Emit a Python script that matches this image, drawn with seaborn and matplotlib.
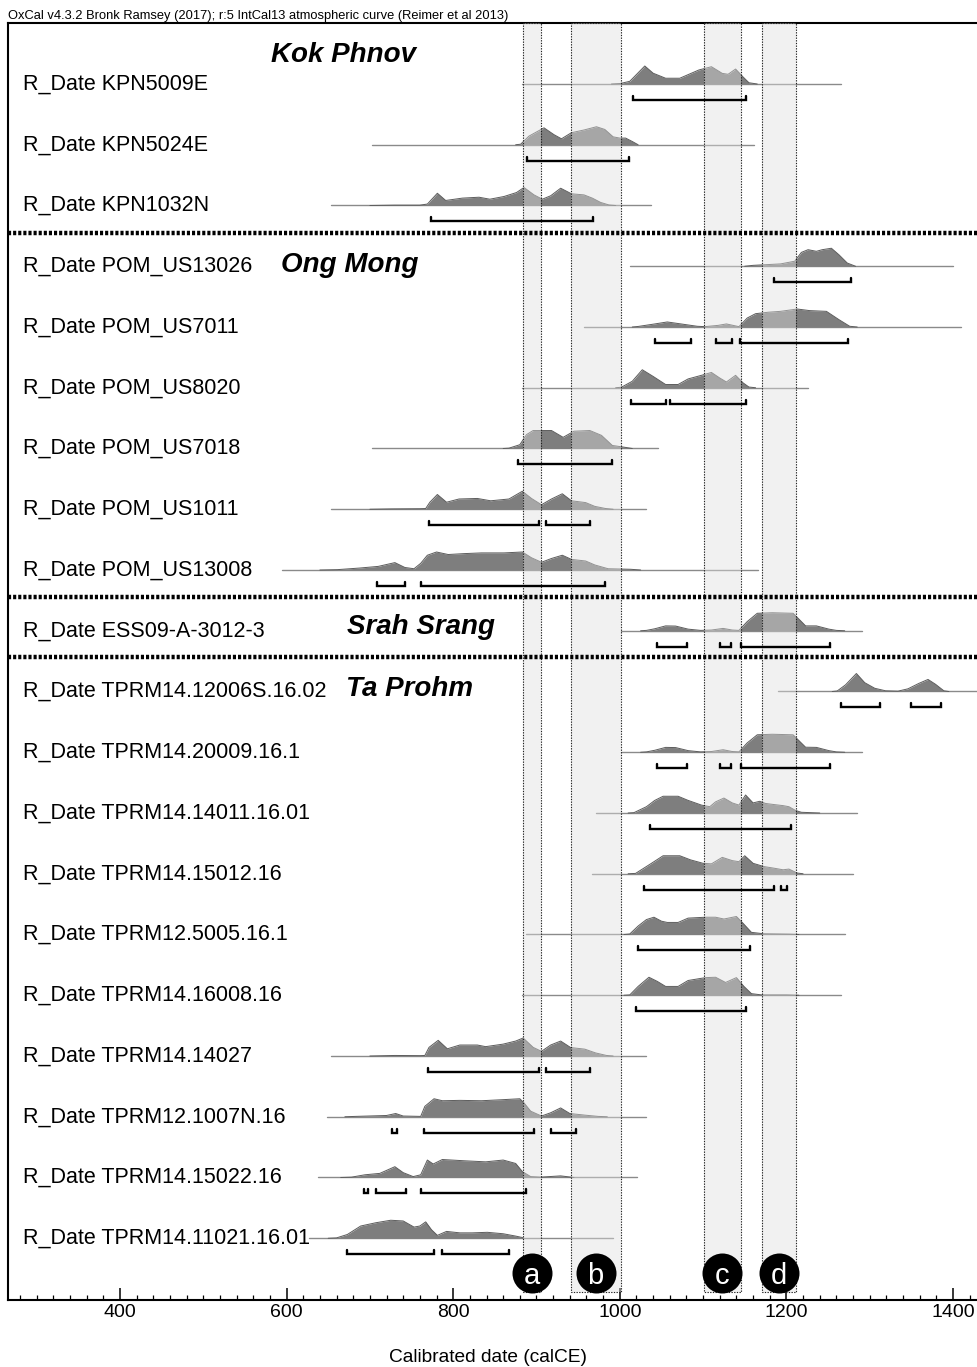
import numpy as np
import pandas as pd
import matplotlib
matplotlib.use("Agg")
import matplotlib.pyplot as plt
from matplotlib.patches import Rectangle
from matplotlib.ticker import MultipleLocator
import seaborn as sns

sns.set_theme(style="white")
plt.rcParams["font.family"] = ["Liberation Sans", "DejaVu Sans"]
plt.rcParams["text.color"] = "black"
plt.rcParams["xtick.color"] = "black"
plt.rcParams["xtick.labelcolor"] = "black"

# ---------------------------------------------------------------- data
labels = [
    "R_Date KPN5009E", "R_Date KPN5024E", "R_Date KPN1032N",
    "R_Date POM_US13026", "R_Date POM_US7011", "R_Date POM_US8020",
    "R_Date POM_US7018", "R_Date POM_US1011", "R_Date POM_US13008",
    "R_Date ESS09-A-3012-3",
    "R_Date TPRM14.12006S.16.02", "R_Date TPRM14.20009.16.1",
    "R_Date TPRM14.14011.16.01", "R_Date TPRM14.15012.16",
    "R_Date TPRM12.5005.16.1", "R_Date TPRM14.16008.16",
    "R_Date TPRM14.14027", "R_Date TPRM12.1007N.16",
    "R_Date TPRM14.15022.16", "R_Date TPRM14.11021.16.01",
]

# extent of each calibrated range (thin base line), calCE
span_start = [883, 703, 653, 1012, 957, 883, 703, 653, 594, 1002,
              1190, 1002, 972, 967, 887, 883, 653, 648, 638, 627]
span_end = [1266, 1161, 1037, 1400, 1409, 1226, 1046, 1032, 1166, 1291,
            1460, 1291, 1285, 1280, 1270, 1266, 1032, 1032, 1021, 992]

# posterior probability outlines (year, relative probability)
kpn5009e_yr = [990, 1001, 1012, 1030, 1040, 1055, 1072, 1095, 1110, 1123, 1130, 1139, 1148, 1155, 1165]
kpn5009e_p = [0, .03, .15, 1.0, .6, .32, .32, .78, .96, .59, .54, .83, .39, .07, 0]

kpn5024e_yr = [875, 881, 891, 909, 921, 930, 942, 957, 972, 982, 992, 1000, 1007, 1015, 1022]
kpn5024e_p = [0, .03, .48, .94, .56, .33, .67, .82, 1.0, .85, .44, .37, .37, .18, 0]

kpn1032n_yr = [700, 730, 760, 769, 781, 791, 811, 831, 844, 861, 876, 885, 897, 907, 917, 929, 942, 957, 967, 977, 987, 995]
kpn1032n_p = [0, .02, .02, .08, .68, .28, .41, .46, .35, .5, .72, 1.0, .59, .35, .54, .96, .65, .59, .41, .17, .03, 0]

us13026_yr = [1150, 1160, 1193, 1210, 1218, 1226, 1236, 1243, 1254, 1263, 1273, 1283]
us13026_p = [0, .05, .13, .28, .77, .92, .83, .92, 1.0, .64, .18, 0]

us7011_yr = [1015, 1022, 1042, 1057, 1072, 1093, 1102, 1118, 1128, 1138, 1143, 1153, 1163, 1178, 1193, 1213, 1228, 1248, 1263, 1276, 1285]
us7011_p = [0, .03, .17, .28, .18, .04, .02, .09, .17, .07, .02, .5, .74, .82, .87, 1.0, .91, .87, .41, .04, 0]

us8020_yr = [995, 1002, 1015, 1027, 1040, 1055, 1070, 1082, 1098, 1110, 1120, 1128, 1139, 1148, 1155, 1163]
us8020_p = [0, .03, .36, 1.0, .63, .18, .18, .49, .69, .85, .54, .32, .69, .27, .04, 0]

us7018_yr = [860, 867, 880, 888, 896, 918, 932, 945, 964, 978, 991, 1007, 1015]
us7018_p = [0, .02, .21, .77, 1.0, 1.0, .62, .96, 1.0, .73, .17, .06, 0]

us1011_yr = [700, 726, 760, 767, 772, 781, 792, 807, 829, 845, 867, 883, 894, 906, 918, 931, 942, 959, 970, 983, 992]
us1011_p = [0, .02, .03, .04, .39, .82, .39, .57, .6, .47, .57, 1.0, .6, .25, .57, .86, .47, .37, .16, .04, 0]

us13008_yr = [640, 661, 688, 710, 730, 742, 753, 761, 769, 780, 794, 813, 834, 861, 883, 894, 906, 918, 931, 942, 959, 970, 986, 1013, 1025]
us13008_p = [0, .02, .11, .2, .41, .14, .07, .37, .82, 1.0, .86, .91, .95, .95, 1.0, .68, .43, .64, .82, .59, .5, .28, .07, .04, 0]

ess09_yr = [1025, 1032, 1042, 1055, 1067, 1082, 1097, 1110, 1124, 1135, 1143, 1153, 1165, 1183, 1208, 1216, 1223, 1236, 1251, 1260, 1270]
ess09_p = [0, .02, .11, .27, .26, .09, .02, .04, .13, .04, .02, .51, .97, 1.0, .97, .6, .27, .27, .09, .02, 0]

t12006_yr = [1255, 1261, 1271, 1284, 1294, 1306, 1319, 1334, 1346, 1359, 1370, 1379, 1389, 1395]
t12006_p = [0, .03, .37, 1.0, .49, .18, .04, .02, .15, .45, .67, .4, .04, 0]

t20009_yr = [1025, 1032, 1042, 1055, 1067, 1082, 1097, 1110, 1124, 1135, 1143, 1153, 1165, 1183, 1208, 1216, 1223, 1236, 1251, 1260, 1270]
t20009_p = [0, .02, .11, .27, .26, .09, .02, .04, .14, .04, .02, .52, .97, 1.0, .97, .6, .28, .27, .09, .02, 0]

t14011_yr = [1010, 1017, 1032, 1042, 1052, 1070, 1082, 1098, 1108, 1115, 1125, 1135, 1143, 1151, 1160, 1168, 1175, 1185, 1196, 1203, 1211, 1218, 1240]
t14011_p = [0, .02, .35, .7, .93, .93, .7, .44, .35, .62, .83, .56, .44, 1.0, .56, .65, .53, .47, .41, .35, .14, .04, 0]

t15012_yr = [1010, 1019, 1037, 1052, 1072, 1085, 1100, 1110, 1123, 1135, 1143, 1150, 1160, 1173, 1185, 1196, 1203, 1213, 1220]
t15012_p = [0, .02, .55, 1.0, 1.0, .77, .58, .55, .91, .73, .67, 1.0, .58, .4, .31, .22, .26, .04, 0]

t5005_yr = [1005, 1012, 1022, 1032, 1041, 1050, 1057, 1070, 1082, 1103, 1115, 1125, 1140, 1148, 1158, 1173, 1203, 1215]
t5005_p = [0, .03, .47, .83, .96, .74, .67, .67, .91, .96, .96, .86, 1.0, .62, .12, .04, .02, 0]

t16008_yr = [1005, 1012, 1022, 1035, 1045, 1055, 1070, 1082, 1103, 1115, 1127, 1140, 1149, 1158, 1170, 1200, 1215]
t16008_p = [0, .02, .49, 1.0, .77, .49, .49, .82, .98, 1.0, .71, .98, .49, .09, .02, .02, 0]

t14027_yr = [700, 730, 760, 766, 771, 782, 793, 808, 829, 839, 860, 875, 884, 896, 906, 917, 929, 941, 958, 971, 984, 992]
t14027_p = [0, .03, .02, .03, .48, .87, .4, .61, .61, .52, .66, .83, 1.0, .48, .26, .61, .83, .47, .38, .17, .03, 0]

t1007n_yr = [670, 683, 720, 731, 740, 761, 766, 777, 787, 808, 834, 860, 880, 885, 893, 906, 917, 929, 940, 958, 974, 985]
t1007n_p = [0, .02, .07, .18, .04, .02, .58, 1.0, .89, .91, .89, .95, 1.0, .77, .31, .04, .22, .49, .18, .09, .02, 0]

t15022_yr = [665, 678, 694, 712, 730, 740, 752, 761, 769, 776, 787, 813, 839, 860, 875, 883, 893, 905, 929, 945]
t15022_p = [0, .02, .15, .23, .6, .27, .05, .15, .97, .75, 1.0, .93, .87, .97, .78, .33, .05, .02, .09, 0]

t11021_yr = [650, 660, 673, 689, 707, 725, 740, 753, 760, 767, 774, 781, 792, 808, 823, 841, 860, 875, 883, 884]
t11021_p = [0, .02, .21, .68, .86, 1.0, .96, .62, .68, .91, .47, .16, .38, .3, .3, .33, .25, .12, .04, 0]

curves = [
    (kpn5009e_yr, kpn5009e_p), (kpn5024e_yr, kpn5024e_p), (kpn1032n_yr, kpn1032n_p),
    (us13026_yr, us13026_p), (us7011_yr, us7011_p), (us8020_yr, us8020_p),
    (us7018_yr, us7018_p), (us1011_yr, us1011_p), (us13008_yr, us13008_p),
    (ess09_yr, ess09_p),
    (t12006_yr, t12006_p), (t20009_yr, t20009_p), (t14011_yr, t14011_p),
    (t15012_yr, t15012_p), (t5005_yr, t5005_p), (t16008_yr, t16008_p),
    (t14027_yr, t14027_p), (t1007n_yr, t1007n_p), (t15022_yr, t15022_p),
    (t11021_yr, t11021_p),
]

# 95.4% highest posterior density ranges, calCE
hpd_ranges = [
    [(1016, 1151)],
    [(889, 1011)],
    [(773, 968)],
    [(1185, 1278)],
    [(1042, 1086), (1116, 1135), (1144, 1274)],
    [(1013, 1056), (1060, 1151)],
    [(878, 991)],
    [(771, 903), (911, 964)],
    [(708, 742), (761, 982)],
    [(1045, 1081), (1120, 1133), (1145, 1252)],
    [(1265, 1312), (1349, 1385)],
    [(1045, 1081), (1120, 1133), (1145, 1252)],
    [(1036, 1206)],
    [(1029, 1185), (1193, 1201)],
    [(1022, 1156)],
    [(1020, 1151)],
    [(770, 903), (912, 964)],
    [(727, 733), (765, 897), (918, 948)],
    [(693, 698), (707, 743), (761, 888)],
    [(673, 777), (786, 867)],
]

# site groups: title, row position
sites = ["Kok Phnov", "Ong Mong", "Srah Srang", "Ta Prohm"]
site_rows = [-0.48, 2.98, 8.94, 9.96]
site_years = [668, 676, 761, 748]
group_breaks = [2.45, 8.45, 9.44]

# construction phases
phase_names = ["a", "b", "c", "d"]
phase_start = [884, 941, 1101, 1171]
phase_end = [906, 1001, 1145, 1212]

header = "OxCal v4.3.2 Bronk Ramsey (2017); r:5 IntCal13 atmospheric curve (Reimer et al 2013)"

# ---------------------------------------------------------------- figure
W, H = 977, 1367
fig = plt.figure(figsize=(W / 100, H / 100), dpi=100)
ax = fig.add_axes([8 / W, 1 - 1300 / H, 1 - 8 / W, (1300 - 23) / H])

ROW_PX = 60.75
PEAK = 18 / ROW_PX
BRK = 16 / ROW_PX
BTICK = 4 / ROW_PX
X0, X1 = 265.6, 1428.8
Y_TOP, Y_BOT = -61 / ROW_PX, (1300 - 84) / ROW_PX

# thin base lines for each calibrated range
base_df = pd.DataFrame({
    "year": [v for s, e in zip(span_start, span_end) for v in (s, e)],
    "row": [i for i in range(len(labels)) for _ in (0, 1)],
    "sample": [i for i in range(len(labels)) for _ in (0, 1)],
})
sns.lineplot(data=base_df, x="year", y="row", units="sample", estimator=None,
             sort=False, color="#8a8a8a", lw=1.0, ax=ax, zorder=2)

# probability distributions
for i, (yr, p) in enumerate(curves):
    yr = np.asarray(yr, float)
    top = i - np.asarray(p, float) * PEAK
    ax.fill_between(yr, top, i, color="#7e7e7e", lw=0, zorder=2.2)
    ax.plot(yr, top, color="#5c5c5c", lw=0.7, zorder=2.3)

# shaded phase bands (light overlay) with dotted outlines
band_bottom = (1292 - 84) / ROW_PX
for s, e in zip(phase_start, phase_end):
    ax.add_patch(Rectangle((s, Y_TOP), e - s, band_bottom - Y_TOP,
                           facecolor="#dedede", alpha=0.42, lw=0, zorder=3))
    ax.add_patch(Rectangle((s, Y_TOP), e - s, band_bottom - Y_TOP,
                           facecolor="none", edgecolor="#222222", lw=0.8,
                           linestyle=(0, (1.2, 1.2)), zorder=4))

# HPD range brackets
for i, ranges in enumerate(hpd_ranges):
    yb = i + BRK
    for a, b in ranges:
        ax.plot([a, a, b, b], [yb - BTICK, yb, yb, yb - BTICK],
                color="black", lw=1.7, solid_joinstyle="miter", zorder=5)

# group separators
for yb in group_breaks:
    ax.plot([X0, X1], [yb, yb], color="black", lw=3.2,
            linestyle=(0, (0.7, 0.45)), zorder=5, solid_capstyle="butt")

# row labels
for i, lab in enumerate(labels):
    ax.text(283.6, i, lab, fontsize=15.5, ha="left", va="center", zorder=6)

# site titles
for name, r, yr in zip(sites, site_rows, site_years):
    ax.text(yr, r, name, fontsize=20, fontweight="bold", fontstyle="italic",
            ha="center", va="center", zorder=6)

# phase markers
circ_row = (1273 - 84) / ROW_PX
centers = [(s + e) / 2 for s, e in zip(phase_start, phase_end)]
ax.scatter(centers, [circ_row] * len(centers), s=(40 * 0.72) ** 2,
           color="black", zorder=7, clip_on=False, linewidths=0)
for c, n in zip(centers, phase_names):
    ax.text(c, circ_row, n, color="white", fontsize=21, ha="center",
            va="center_baseline", zorder=8)

# axes styling
ax.set_xlim(X0, X1)
ax.set_ylim(Y_BOT, Y_TOP)
ax.set_xticks(np.arange(400, 1401, 200))
ax.xaxis.set_minor_locator(MultipleLocator(20))
ax.set_yticks([])
ax.tick_params(axis="x", which="major", direction="in", length=8.6, width=1.1,
               labelsize=14, pad=3, bottom=True, color="black", labelcolor="black")
ax.tick_params(axis="x", which="minor", direction="in", length=3.6, width=0.9,
               bottom=True, color="black")
ax.set_xlabel("")
ax.set_ylabel("")
for side in ("left", "bottom", "top"):
    ax.spines[side].set_visible(True)
    ax.spines[side].set_color("black")
    ax.spines[side].set_linewidth(1.5)
ax.spines["right"].set_visible(False)
ax.set_facecolor("white")

fig.text(8 / W, 1 - 16 / H, header, fontsize=9.3, ha="left", va="center")
fig.text(488 / W, 1 - 1357 / H, "Calibrated date (calCE)", fontsize=13.8,
         ha="center", va="center")

fig.savefig("out.png", dpi=100, facecolor="white")
